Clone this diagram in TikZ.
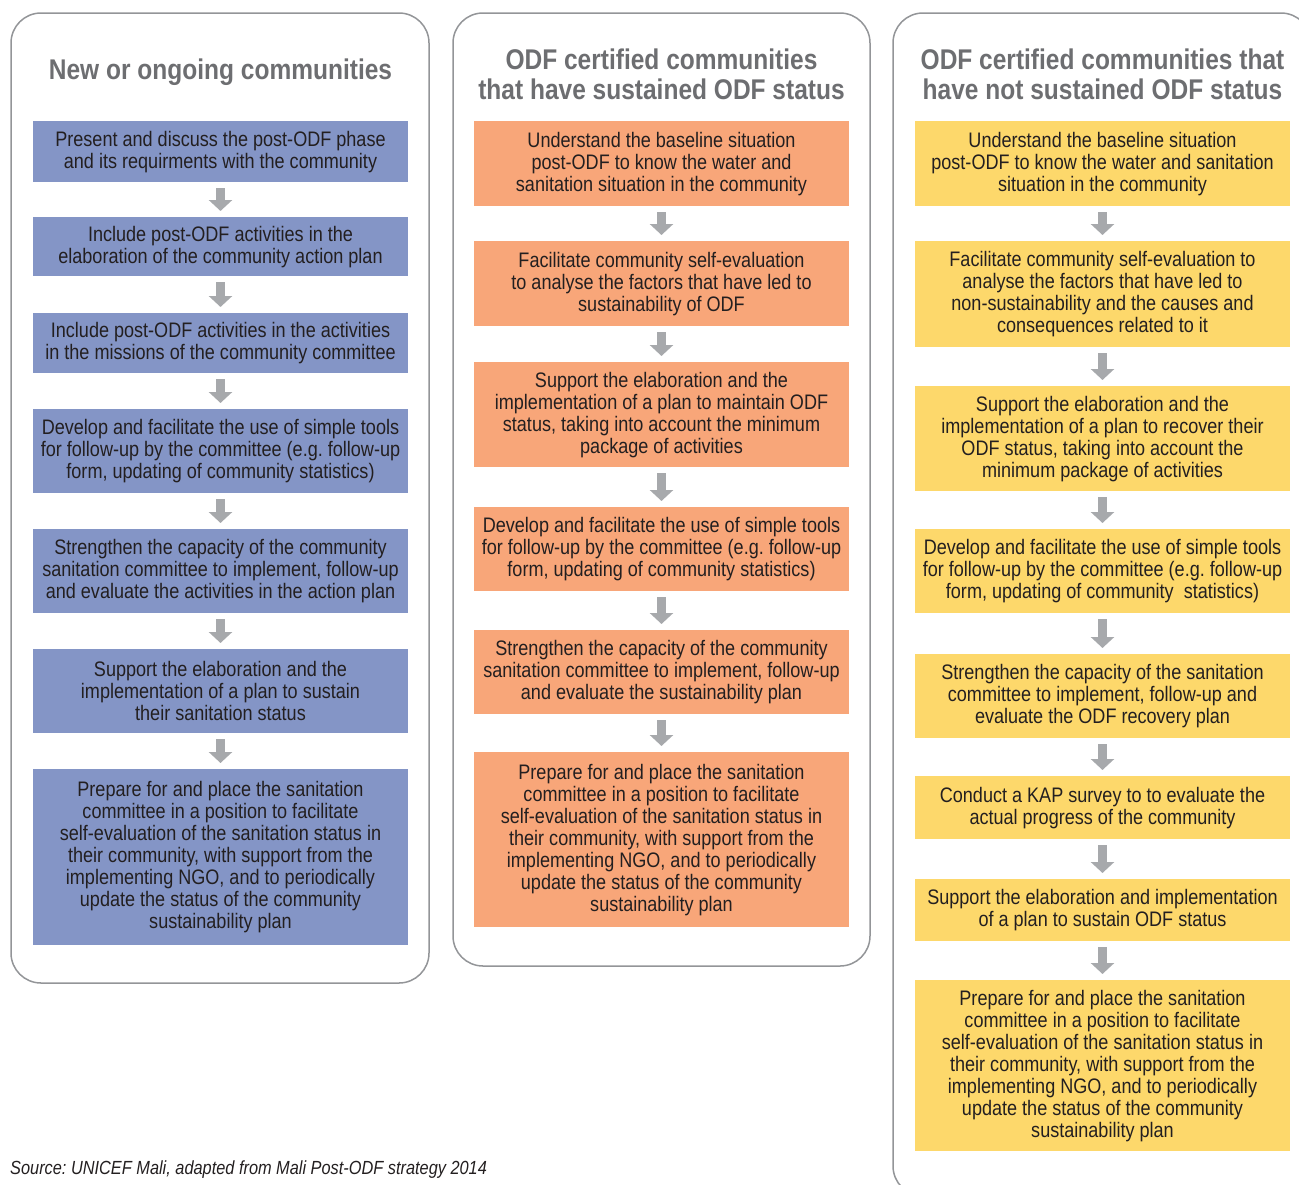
\documentclass[tikz,border=0pt]{standalone}
\usepackage{fontspec}
\setmainfont{Liberation Sans}[FakeStretch=0.86]
\usetikzlibrary{arrows.meta}
\definecolor{boxblue}{HTML}{8495C6}
\definecolor{boxorange}{HTML}{F8A679}
\definecolor{boxyellow}{HTML}{FDD86B}
\definecolor{titlegray}{HTML}{6D6E71}
\definecolor{framegray}{HTML}{939598}
\definecolor{arrowgray}{HTML}{A7A9AC}
\definecolor{textdark}{HTML}{231F20}
\frenchspacing

\begin{document}
\begin{tikzpicture}[x=1pt,y=-1pt,
  panel/.style={draw=framegray,line width=1.5pt,rounded corners=30pt},
  heading/.style={font=\fontsize{28.5}{30}\selectfont\bfseries,text=titlegray,align=center,inner sep=0pt},
  stepbox/.style={anchor=north,minimum width=375pt,inner sep=0pt,align=center,text=textdark,font=\fontsize{21}{22}\selectfont,execute at begin node={\rule{0pt}{19pt}}},
  twoline/.style={execute at begin node={\rule{0pt}{25pt}}},
  newbox/.style={stepbox,fill=boxblue},
  keptbox/.style={stepbox,fill=boxorange},
  lostbox/.style={stepbox,fill=boxyellow},
  flow/.style={draw=arrowgray,line width=9pt,-{Triangle[width=23pt,length=11pt]},shorten <=6pt,shorten >=6pt}]
\clip (0,0) rectangle (1299,1184);

% panels
\draw[panel] (11,13) rectangle (429,983);
\draw[panel] (453,13) rectangle (870,966);
\draw[panel] (893,13) rectangle (1311,1196);

\node[heading] (t1) at (220.5,72) {New or ongoing communities};
\node[heading] (t2) at (661.5,74) {ODF certified communities\\that have sustained ODF status};
\node[heading] (t3) at (1102.5,74) {ODF certified communities that\\have not sustained ODF status};

% new or ongoing communities
\node[newbox,twoline,minimum height=61pt] (n1) at (220.5,121) {Present and discuss the post-ODF phase\\and its requirments with the community};
\node[newbox,twoline,minimum height=59pt] (n2) at (220.5,217) {Include post-ODF activities in the\\elaboration of the community action plan};
\node[newbox,twoline,minimum height=60pt] (n3) at (220.5,313) {Include post-ODF activities in the activities\\in the missions of the community committee};
\node[newbox,minimum height=84pt] (n4) at (220.5,409) {Develop and facilitate the use of simple tools\\for follow-up by the committee (e.g. follow-up\\form, updating of community statistics)};
\node[newbox,minimum height=84pt] (n5) at (220.5,529) {Strengthen the capacity of the community\\sanitation committee to implement, follow-up\\and evaluate the activities in the action plan};
\node[newbox,minimum height=84pt] (n6) at (220.5,649) {Support the elaboration and the\\implementation of a plan to sustain\\their sanitation status};
\node[newbox,minimum height=176pt] (n7) at (220.5,769) {Prepare for and place the sanitation\\committee in a position to facilitate\\self-evaluation of the sanitation status in\\their community, with support from the\\implementing NGO, and to periodically\\update the status of the community\\sustainability plan};

\draw[flow] (n1) -- (n2);
\draw[flow] (n2) -- (n3);
\draw[flow] (n3) -- (n4);
\draw[flow] (n4) -- (n5);
\draw[flow] (n5) -- (n6);
\draw[flow] (n6) -- (n7);

% sustained ODF status
\node[keptbox,minimum height=85pt] (k1) at (661.5,121) {Understand the baseline situation\\post-ODF to know the water and\\sanitation situation in the community};
\node[keptbox,minimum height=85pt] (k2) at (661.5,241) {Facilitate community self-evaluation\\to analyse the factors that have led to\\sustainability of ODF};
\node[keptbox,minimum height=105pt] (k3) at (661.5,362) {Support the elaboration and the\\implementation of a plan to maintain ODF\\status, taking into account the minimum\\package of activities};
\node[keptbox,minimum height=84pt] (k4) at (661.5,507) {Develop and facilitate the use of simple tools\\for follow-up by the committee (e.g. follow-up\\form, updating of community statistics)};
\node[keptbox,minimum height=84pt] (k5) at (661.5,630) {Strengthen the capacity of the community\\sanitation committee to implement, follow-up\\and evaluate the sustainability plan};
\node[keptbox,minimum height=175pt] (k6) at (661.5,752) {Prepare for and place the sanitation\\committee in a position to facilitate\\self-evaluation of the sanitation status in\\their community, with support from the\\implementing NGO, and to periodically\\update the status of the community\\sustainability plan};

\draw[flow] (k1) -- (k2);
\draw[flow] (k2) -- (k3);
\draw[flow] (k3) -- (k4);
\draw[flow] (k4) -- (k5);
\draw[flow] (k5) -- (k6);

% not sustained ODF status
\node[lostbox,minimum height=85pt] (l1) at (1102.5,121) {Understand the baseline situation\\post-ODF to know the water and sanitation\\situation in the community};
\node[lostbox,minimum height=106pt] (l2) at (1102.5,241) {Facilitate community self-evaluation to\\analyse the factors that have led to\\non-sustainability and the causes and\\consequences related to it};
\node[lostbox,minimum height=105pt] (l3) at (1102.5,386) {Support the elaboration and the\\implementation of a plan to recover their\\ODF status, taking into account the\\minimum package of activities};
\node[lostbox,minimum height=84pt] (l4) at (1102.5,529) {Develop and facilitate the use of simple tools\\for follow-up by the committee (e.g. follow-up\\form, updating of community\ \ statistics)};
\node[lostbox,minimum height=84pt] (l5) at (1102.5,654) {Strengthen the capacity of the sanitation\\committee to implement, follow-up and\\evaluate the ODF recovery plan};
\node[lostbox,twoline,minimum height=63pt] (l6) at (1102.5,776) {Conduct a KAP survey to to evaluate the\\actual progress of the community};
\node[lostbox,twoline,minimum height=62pt] (l7) at (1102.5,879) {Support the elaboration and implementation\\of a plan to sustain ODF status};
\node[lostbox,minimum height=171pt] (l8) at (1102.5,980) {Prepare for and place the sanitation\\committee in a position to facilitate\\self-evaluation of the sanitation status in\\their community, with support from the\\implementing NGO, and to periodically\\update the status of the community\\sustainability plan};

\draw[flow] (l1) -- (l2);
\draw[flow] (l2) -- (l3);
\draw[flow] (l3) -- (l4);
\draw[flow] (l4) -- (l5);
\draw[flow] (l5) -- (l6);
\draw[flow] (l6) -- (l7);
\draw[flow] (l7) -- (l8);

\node[anchor=base west,inner sep=0pt,text=textdark,font=\fontsize{19}{20}\selectfont\itshape] (src) at (10,1174) {Source: UNICEF Mali, adapted from Mali Post-ODF strategy 2014};
\end{tikzpicture}
\end{document}
